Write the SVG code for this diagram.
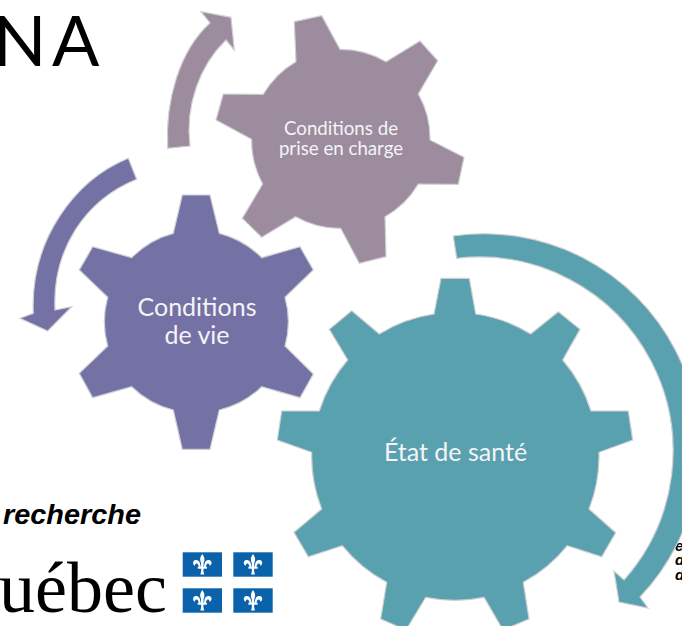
<svg xmlns="http://www.w3.org/2000/svg" width="682" height="626" viewBox="0 0 682 626">
<style>
.g{stroke:#cfcfd4;stroke-width:1.2;stroke-linejoin:miter}
.m{fill:#9c8c9e}.p{fill:#7472a5}.t{fill:#5aa1af}
.l{font-family:"Lato","Open Sans",sans-serif;fill:#f4f4f6;text-anchor:middle}
.k{font-family:"Liberation Sans",Arial,sans-serif;font-weight:700;font-style:italic;fill:#000}
.f{fill:#0a62ab}
</style>
<defs>
<g id="fl" fill="#fff">
<path d="M0,-10.5C2.3,-7.6 2.8,-4.8 1.3,-1.5L1.1,6.5L1.9,10L-1.9,10L-1.1,6.5L-1.3,-1.5C-2.8,-4.8 -2.3,-7.6 0,-10.5Z"/>
<path id="fs" d="M2.4,-1.5C3.2,-5 7.4,-5.5 8.8,-3.2C10,-1.2 8.4,1 7.4,1.4C7.4,0 6.5,-1.4 5.3,-.9C3.9,-.4 3.7,1.9 3.2,3.2L1.4,3.2Z"/>
<use href="#fs" transform="scale(-1,1)"/>
<rect x="-4.6" y="2.2" width="9.2" height="2"/>
</g>
</defs>
<rect width="682" height="626" fill="#fff"/>
<g id="title"><text x="-7 52" y="66" font-family="Lato,'Open Sans',sans-serif" font-size="70" fill="#000">NA</text></g>
<g id="logo">
<text class="k" x="3" y="524" font-size="27" textLength="138" lengthAdjust="spacingAndGlyphs">recherche</text>
<text x="-1" y="612" font-family="'Liberation Serif',serif" font-size="72" fill="#000">uébec</text>
<rect class="f" x="182.7" y="552.3" width="39.3" height="24.4"/>
<rect class="f" x="233.3" y="552.3" width="39.4" height="24.4"/>
<rect class="f" x="182.7" y="588.3" width="39.3" height="24.4"/>
<rect class="f" x="233.3" y="588.3" width="39.4" height="24.4"/>
<use href="#fl" x="202.3" y="564.5"/>
<use href="#fl" x="253" y="564.5"/>
<use href="#fl" x="202.3" y="600.5"/>
<use href="#fl" x="253" y="600.5"/>
</g>
<g id="side-text" class="k" font-size="15">
<text x="675" y="551">e</text>
<text x="675" y="565">d</text>
<text x="675" y="580">d</text>
</g>
<g id="connectors">
<path class="g m" d="M167.7,148.3C165,100 180,50 210,23L201,11.7L231,17.3L234.3,50L226,40C200,65 185,105 190,146Z"/>
<path class="g p" d="M128.3,158.3C75,180 30,240 33.3,313.3L20,318.3L47.7,331L71.7,306.7L55,310C52,250 85,200 136.7,179.3Z"/>
<path class="g t" d="M453.3,236A215,215 0 0 1 640,597L648,608L619,602L614,571L624,580A194,194 0 0 0 456.7,258.3Z"/>
</g>
<g id="node-prise-en-charge">
<path class="g m" d="M294.3,21.7L321.7,15.7L340,49.3A90,90 0 0 1 386,61.7L420,41L437.7,60.7L418.3,94A90,90 0 0 1 430,140L464,157.3L458.3,184.3L418.3,184A90,90 0 0 1 385,216.7L386,256.7L359.3,263.3L340.7,228.3A90,90 0 0 1 295.7,216.7L261.7,237.3L242.3,218.3L262.7,184A90,90 0 0 1 251.7,139.3L216,120L223.3,94L263.3,94.3A90,90 0 0 1 296,61.7Z"/>
<text class="l" x="341" y="135" font-size="18.7">Conditions de</text>
<text class="l" x="341" y="155" font-size="18.7">prise en charge</text>
</g>
<g id="node-conditions-de-vie">
<path class="g p" d="M182.3,195L210,195L219.3,233.3A91,91 0 0 1 261.7,257.7L300,246.7L313.3,270L285,297.3A91,91 0 0 1 285,346L313.3,374L300,397.7L261.7,386.7A91,91 0 0 1 219.3,410L210,449.3L182.3,449.3L173.3,410A91,91 0 0 1 131.7,386.7L92.7,397.7L79.3,373.3L107.7,346A91,91 0 0 1 107.7,297.3L79.3,270L92.7,246.7L131.7,257.7A91,91 0 0 1 173.3,233.3Z"/>
<text class="l" x="197" y="316" font-size="25">Conditions</text>
<text class="l" x="197" y="344" font-size="25">de vie</text>
</g>
<g id="node-etat-de-sante">
<path class="g t" d="M441,278.3L469.3,278.3L475.7,314A144,144 0 0 1 530.7,334L558.3,311.7L580,329.3L562.7,360A144,144 0 0 1 591,411L628.3,411L632.7,440L599,452.3A144,144 0 0 1 589,509L615.7,532.7L601.7,556.7L567.3,545.7A144,144 0 0 1 523.3,582.3L529,619L503,630L484,597.3A144,144 0 0 1 425.7,597.3L406,630L380.7,619L386.7,582.3A144,144 0 0 1 342.3,545.7L308.3,556.7L294,532.3L321.7,509A144,144 0 0 1 311.7,452.3L277.3,440L281.7,411L319.3,411A144,144 0 0 1 347.7,360L329.3,329.3L351.7,310.7L379.3,334A144,144 0 0 1 434,314Z"/>
<text class="l" x="455.5" y="461" font-size="25">État de santé</text>
</g>
</svg>
